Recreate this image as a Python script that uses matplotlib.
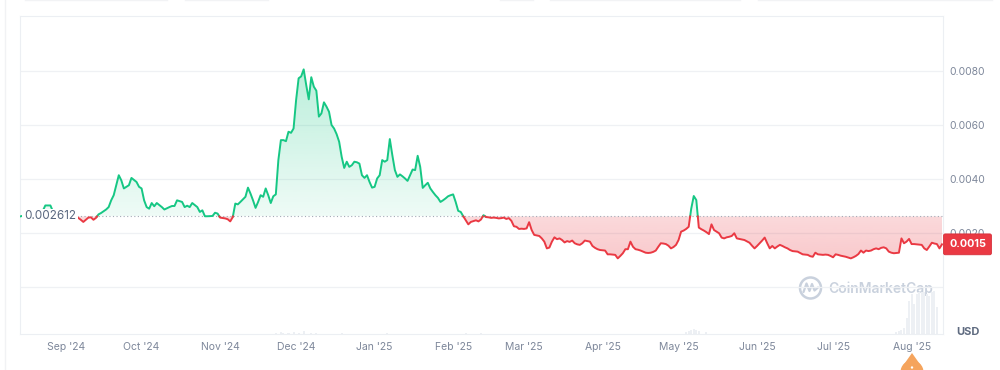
import numpy as np
import pandas as pd
import matplotlib
matplotlib.use("Agg")
import matplotlib.pyplot as plt
import matplotlib.dates as mdates
from matplotlib.path import Path
from matplotlib.patches import PathPatch, Circle, Polygon
from matplotlib.transforms import blended_transform_factory
from matplotlib.ticker import FuncFormatter

plt.rcParams['font.family'] = ['Inter', 'DejaVu Sans']

# price history, one year (days counted from the first point)
start_date = "2024-08-14"
early_days = [0, 2, 4, 6, 8, 9, 10, 12, 13, 15, 17,
              19, 22, 24, 25, 27, 28, 29, 30, 31, 32,
              34, 35, 36, 37, 38, 39, 40, 41, 43, 44,
              46, 47, 48, 49, 50, 51, 52, 53, 54, 56,
              57, 59, 60, 61, 62, 64, 65, 66, 67, 68,
              70, 71, 72, 73, 74, 76, 77, 78, 79, 81,
              82, 83, 84, 85, 86, 87, 89, 90, 91, 92,
              93]
days = early_days + list(range(94, 365))

# price in thousandths of a USD
price_milli = [
    2.612, 2.66, 2.60, 2.64, 2.70, 2.82, 3.02, 3.02, 2.80, 2.66, 2.62,
    2.68, 2.63, 2.49, 2.41, 2.57, 2.58, 2.49, 2.56, 2.69, 2.74,
    2.87, 2.96, 3.21, 3.40, 3.77, 4.14, 3.95, 3.65, 3.77, 4.04,
    3.89, 3.71, 3.65, 3.21, 2.96, 2.90, 3.11, 2.99, 3.11, 2.96,
    2.87, 2.96, 3.00, 3.00, 3.21, 3.15, 2.96, 3.01, 2.96, 3.11,
    2.96, 2.78, 2.84, 2.62, 2.62, 2.63, 2.75, 2.72, 2.57, 2.54,
    2.51, 2.43, 2.59, 3.09, 3.06, 3.15, 3.34, 3.68, 3.46, 3.21,
    2.93,
    3.15, 3.40, 3.34, 3.65, 3.40, 3.11, 3.36, 3.43, 4.70, 5.44,
    5.44, 5.40, 5.75, 5.71, 5.87, 6.92, 7.73, 7.80, 8.06, 7.48,
    6.95, 7.77, 7.42, 7.27, 6.31, 6.43, 6.84, 6.68, 6.49, 6.00,
    5.87, 5.66, 5.38, 4.82, 4.41, 4.64, 4.45, 4.51, 4.64, 4.62,
    4.57, 4.14, 4.04, 4.14, 3.89, 3.68, 3.71, 4.02, 4.14, 4.70,
    4.64, 4.70, 5.48, 4.88, 4.33, 4.08, 4.17, 4.10, 4.02, 3.93,
    4.14, 4.35, 4.33, 4.86, 4.45, 3.67, 3.77, 3.86, 3.65, 3.52,
    3.40, 3.30, 3.15, 3.21, 3.28, 3.36, 3.40, 3.43, 3.15, 2.82,
    2.78, 2.62, 2.47, 2.32, 2.41, 2.44, 2.47, 2.43, 2.50, 2.66,
    2.59, 2.58, 2.56, 2.57, 2.56, 2.54, 2.55, 2.57, 2.52, 2.55,
    2.45, 2.25, 2.23, 2.15, 2.16, 2.15, 2.17, 2.40, 2.11, 1.93,
    1.91, 1.89, 1.80, 1.68, 1.43, 1.46, 1.68, 1.84, 1.77, 1.80,
    1.74, 1.65, 1.70, 1.67, 1.72, 1.62, 1.58, 1.56, 1.62, 1.72,
    1.70, 1.68, 1.52, 1.45, 1.40, 1.37, 1.36, 1.35, 1.21, 1.21,
    1.20, 1.19, 1.06, 1.15, 1.25, 1.40, 1.40, 1.68, 1.49, 1.40,
    1.38, 1.35, 1.31, 1.27, 1.26, 1.27, 1.30, 1.35, 1.49, 1.62,
    1.61, 1.59, 1.53, 1.43, 1.48, 1.56, 1.74, 2.05, 2.09, 2.15,
    2.23, 2.90, 3.37, 3.22, 2.20, 2.14, 2.09, 2.03, 1.96, 2.32,
    2.11, 2.05, 1.99, 1.83, 1.80, 1.84, 1.86, 1.89, 1.99, 1.80,
    1.78, 1.76, 1.74, 1.69, 1.64, 1.53, 1.43, 1.52, 1.62, 1.72,
    1.83, 1.62, 1.43, 1.52, 1.43, 1.50, 1.56, 1.52, 1.47, 1.43,
    1.37, 1.33, 1.32, 1.31, 1.26, 1.21, 1.20, 1.19, 1.14, 1.12,
    1.27, 1.21, 1.20, 1.19, 1.20, 1.19, 1.15, 1.10, 1.21, 1.19,
    1.16, 1.14, 1.12, 1.09, 1.06, 1.10, 1.15, 1.22, 1.35, 1.27,
    1.35, 1.33, 1.35, 1.40, 1.43, 1.40, 1.45, 1.47, 1.43, 1.31,
    1.27, 1.25, 1.26, 1.27, 1.80, 1.62, 1.68, 1.78, 1.59, 1.59,
    1.58, 1.57, 1.56, 1.43, 1.37, 1.50, 1.64, 1.61, 1.59, 1.43,
    1.58,
]

# trading volume (relative units)
vol_days = [101, 103, 104, 106, 108, 110, 112, 115, 117, 127, 145, 176, 182,
            263, 264, 265, 266, 267, 268, 271,
            346, 347, 348, 349, 350, 351, 352, 353, 354, 355, 356, 357, 358,
            359, 360, 361, 362]
vol_values = [1.5, 2, 1, 1.5, 2.5, 1.5, 3, 1.5, 1, 1, 1, 1, 1,
              2, 3, 4, 5, 4, 3, 2,
              2, 3, 4, 6, 16, 33, 40, 30, 40, 42, 42, 42, 40,
              38, 42, 43, 27]

ref_price = 0.002612
ref_label = "0.002612"
last_label = "0.0015"
y_ticks = [0.0, 0.002, 0.004, 0.006, 0.008]

GREEN = "#16c784"
RED = "#ea3943"
GRID = "#eff1f4"
TXT = "#7d879a"

t0 = pd.Timestamp(start_date)
dates = [t0 + pd.Timedelta(days=d) for d in days]
tx = mdates.date2num(dates)
prices = np.array(price_milli) / 1000.0
vdates = mdates.date2num([t0 + pd.Timedelta(days=d) for d in vol_days])

# insert crossing points with the reference so colours switch cleanly
xs, ys = [tx[0]], [prices[0]]
for i in range(1, len(tx)):
    a, b = prices[i - 1], prices[i]
    if (a - ref_price) * (b - ref_price) < 0:
        xc = tx[i - 1] + (ref_price - a) / (b - a) * (tx[i] - tx[i - 1])
        xs.append(xc)
        ys.append(ref_price)
    xs.append(tx[i])
    ys.append(b)
xs = np.array(xs)
ys = np.array(ys)

fig = plt.figure(figsize=(10, 3.7), dpi=100)
fig.patch.set_facecolor("white")

# overlay in pixel coordinates for page decorations
ov = fig.add_axes([0, 0, 1, 1], zorder=0)
ov.set_xlim(0, 1000)
ov.set_ylim(370, 0)
ov.axis("off")

ax = fig.add_axes([0.02, 1 - 334 / 370, 0.923, 318 / 370], zorder=2)
ax.set_facecolor("none")

vax = fig.add_axes(ax.get_position(), sharex=ax, zorder=1)
vax.axis("off")
vax.bar(vdates, vol_values, width=0.8, color="#edf0f4", linewidth=0)
vax.set_ylim(0, max(vol_values) * 7.4)


def gradient_fill(mask, color, a_ref, a_far, far):
    coll = ax.fill_between(xs, ys, ref_price, where=mask, color="none", lw=0)
    path = Path.make_compound_path(*coll.get_paths())
    patch = PathPatch(path, transform=ax.transData, fc="none", ec="none")
    ax.add_patch(patch)
    rgb = matplotlib.colors.to_rgb(color)
    n = 200
    img = np.zeros((n, 1, 4))
    img[:, 0, :3] = rgb
    lo, hi = min(ref_price, far), max(ref_price, far)
    frac = np.linspace(0, 1, n)
    if far > ref_price:
        img[:, 0, 3] = a_ref + (a_far - a_ref) * frac
    else:
        img[:, 0, 3] = a_far + (a_ref - a_far) * frac
    im = ax.imshow(img, extent=[xs[0], xs[-1], lo, hi], origin="lower",
                   aspect="auto", zorder=1.5, interpolation="bilinear")
    im.set_clip_path(patch)


gradient_fill(ys >= ref_price, GREEN, 0.07, 0.30, 0.0082)
gradient_fill(ys <= ref_price, RED, 0.19, 0.28, 0.0009)

up = np.where(ys >= ref_price, ys, np.nan)
dn = np.where(ys <= ref_price, ys, np.nan)
ax.plot(xs, up, color=GREEN, lw=1.4, zorder=3, solid_joinstyle="round")
ax.plot(xs, dn, color=RED, lw=1.4, zorder=3, solid_joinstyle="round")

ax.axhline(ref_price, color="#a3aab6", lw=0.8, ls=(0, (1, 2.2)), zorder=2.5)

x_left = mdates.date2num(t0)
ax.set_xlim(x_left, x_left + 364.4)
ax.set_ylim(-0.001741, 0.010037)

ax.xaxis.set_major_locator(mdates.MonthLocator())
ax.xaxis.set_major_formatter(mdates.DateFormatter("%b '%y"))
ax.yaxis.tick_right()
ax.set_yticks(y_ticks)
ax.yaxis.set_major_formatter(FuncFormatter(lambda v, _: "" if abs(v) < 1e-9 else f"{v:.4f}"))
ax.tick_params(axis="x", length=0, pad=6, labelsize=7.5, labelcolor=TXT)
ax.tick_params(axis="y", length=0, pad=4.5, labelsize=7.5, labelcolor=TXT)
ax.set_axisbelow(True)
ax.grid(axis="y", color=GRID, lw=0.9)
ax.grid(axis="x", visible=False)
for s in ax.spines.values():
    s.set_color("#eceff3")
    s.set_linewidth(0.8)

blend = blended_transform_factory(ax.transAxes, ax.transData)
ax.text(4 / 923, ref_price, ref_label, transform=blend, ha="left", va="center",
        fontsize=8.4, color="#58667e", zorder=6,
        bbox=dict(boxstyle="square,pad=0.15", fc="white", ec="none"))
ax.text(1 + 6 / 923, prices[-1], last_label, transform=blend, ha="left", va="center",
        fontsize=7.8, fontweight="bold", color="white", zorder=6, clip_on=False,
        bbox=dict(boxstyle="round,pad=0.5,rounding_size=0.15", fc=RED, ec="#d52f39", lw=0.6))

fig.text(967.5 / 1000, 1 - 332 / 370, "USD", ha="center", va="center",
         fontsize=8, fontweight="bold", color="#5f6b80")

# watermark
ov.add_patch(Circle((810.5, 288), 10.5, fill=False, ec="#c9d1dd", lw=1.8))
ov.plot([803.5, 806.5, 809.5, 812, 814.5, 818], [292, 283.5, 291, 284, 290.5, 287.5],
        color="#c9d1dd", lw=1.6, solid_joinstyle="round", solid_capstyle="round")
ov.text(828, 288.5, "CoinMarketCap", fontsize=10, fontweight="semibold",
        color="#c9d1dd", va="center", ha="left")

# page furniture
ov.plot([5, 5], [0, 370], color="#f1f2f4", lw=1)
for a, b in [(25, 167), (185, 268), (500, 533), (550, 740), (758, 992)]:
    ov.plot([a, b], [0.3, 0.3], color="#f2f3f5", lw=1)
ov.add_patch(Circle((912, 372), 11.5, color="#f5a45d", lw=0))
ov.add_patch(Polygon([(903.5, 365), (912, 353), (920.5, 365)], closed=True, color="#f5a45d", lw=0))
ov.add_patch(Circle((912, 367.5), 1.2, color="white", lw=0))

fig.savefig("out.png", dpi=100)
